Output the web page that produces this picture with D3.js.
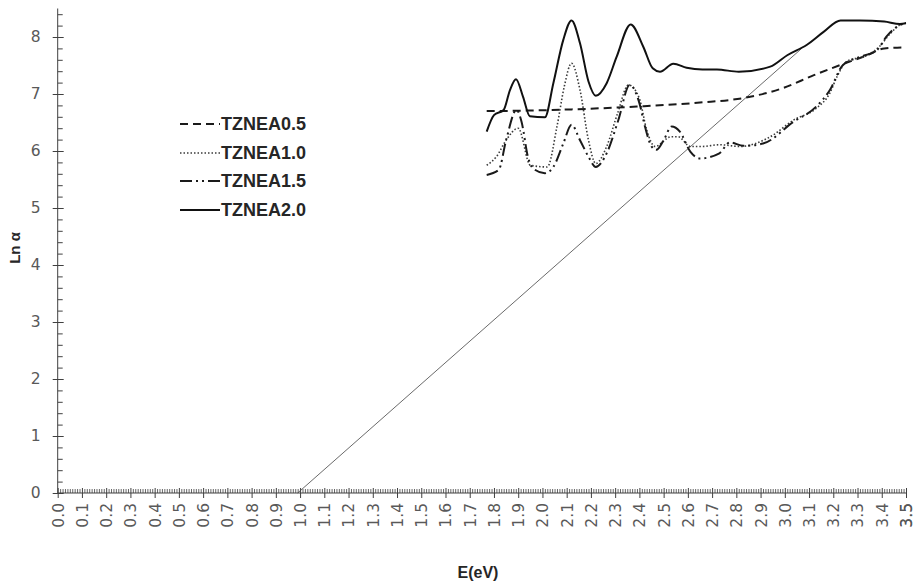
<!DOCTYPE html>
<html>
<head>
<meta charset="utf-8">
<script src="https://cdn.jsdelivr.net/npm/d3@7"></script>
<style>
  html, body { margin: 0; padding: 0; background: #fff; }
  svg { display: block; }
</style>
</head>
<body>
<svg id="chart" width="916" height="584"></svg>
<script>
// ---- data ----
const seriesNames = ["TZNEA0.5", "TZNEA1.0", "TZNEA1.5", "TZNEA2.0"];

const tznea05E = [1.77, 1.95, 2.12, 2.39, 2.65, 2.83, 2.99, 3.12, 3.23, 3.34, 3.41, 3.50];
const tznea05V = [6.70, 6.71, 6.73, 6.78, 6.85, 6.93, 7.10, 7.33, 7.51, 7.68, 7.80, 7.82];

const tznea10E = [1.77, 1.81, 1.85, 1.90, 1.95, 2.02, 2.06, 2.09, 2.12, 2.155, 2.19, 2.22, 2.265, 2.31, 2.355, 2.40, 2.43, 2.465, 2.53, 2.56, 2.61, 2.66, 2.73, 2.815, 2.94, 3.035, 3.13, 3.185, 3.215, 3.255, 3.34, 3.39, 3.435, 3.475, 3.50];
const tznea10V = [5.75, 5.90, 6.19, 6.40, 5.75, 5.72, 6.43, 7.13, 7.54, 7.07, 6.19, 5.78, 6.08, 6.66, 7.16, 6.92, 6.37, 6.08, 6.25, 6.25, 6.08, 6.08, 6.11, 6.08, 6.25, 6.54, 6.75, 7.01, 7.30, 7.57, 7.68, 7.83, 8.06, 8.21, 8.25];

const tznea15E = [1.77, 1.82, 1.85, 1.893, 1.914, 1.94, 1.96, 2.01, 2.045, 2.086, 2.12, 2.155, 2.19, 2.22, 2.265, 2.313, 2.36, 2.40, 2.423, 2.45, 2.47, 2.50, 2.533, 2.567, 2.61, 2.65, 2.73, 2.773, 2.83, 2.91, 3.035, 3.13, 3.186, 3.24, 3.31, 3.38, 3.42, 3.475, 3.50];
const tznea15V = [5.58, 5.67, 6.19, 6.72, 6.51, 5.90, 5.70, 5.61, 5.72, 6.13, 6.46, 6.19, 5.90, 5.72, 5.96, 6.54, 7.16, 6.84, 6.43, 6.08, 6.02, 6.19, 6.43, 6.34, 5.99, 5.87, 5.96, 6.15, 6.09, 6.13, 6.51, 6.78, 7.07, 7.51, 7.65, 7.77, 8.01, 8.21, 8.24];

const tznea20E = [1.77, 1.80, 1.84, 1.866, 1.891, 1.92, 1.948, 2.01, 2.045, 2.086, 2.12, 2.155, 2.19, 2.22, 2.265, 2.306, 2.364, 2.416, 2.455, 2.485, 2.54, 2.595, 2.66, 2.72, 2.81, 2.94, 3.01, 3.09, 3.16, 3.23, 3.31, 3.41, 3.475, 3.50];
const tznea20V = [6.34, 6.63, 6.72, 7.07, 7.26, 6.95, 6.61, 6.59, 7.19, 7.95, 8.29, 7.89, 7.22, 6.97, 7.19, 7.65, 8.22, 7.83, 7.45, 7.39, 7.53, 7.46, 7.43, 7.43, 7.39, 7.48, 7.68, 7.86, 8.09, 8.29, 8.29, 8.27, 8.23, 8.24];

// straight extrapolation line (Tauc-style)
const fitE = [0.99, 3.07];
const fitV = [0.0, 7.80];

const xTickValues = d3.range(0, 36).map(i => i / 10);
const xTickLabels = xTickValues.map(v => v.toFixed(1));
const yTickValues = [0, 1, 2, 3, 4, 5, 6, 7, 8];

// ---- layout ----
const svg = d3.select("#chart");
const x = d3.scaleLinear().domain([0, 3.5]).range([57.7, 906]);
const y = d3.scaleLinear().domain([0, 8.5]).range([493, 8.5]);

const axisColor = "#404040";
const labelColor = "#595959";
const tickFont = "DejaVu Sans, sans-serif";

// fit line
svg.append("path")
  .datum(fitE.map((e, i) => [e, fitV[i]]))
  .attr("fill", "none")
  .attr("stroke", "#6a6a6a")
  .attr("stroke-width", 1)
  .attr("d", d3.line().x(d => x(d[0])).y(d => y(d[1])));

// series
const styles = [
  { E: tznea05E, V: tznea05V, dash: "8,5", width: 2, color: "#1a1a1a" },
  { E: tznea10E, V: tznea10V, dash: "1.5,2", width: 1.6, color: "#3a3a3a" },
  { E: tznea15E, V: tznea15V, dash: "12,4,2,4,2,4", width: 2, color: "#1a1a1a" },
  { E: tznea20E, V: tznea20V, dash: null, width: 2, color: "#111" }
];
const line = d3.line().x(d => x(d[0])).y(d => y(d[1])).curve(d3.curveMonotoneX);
styles.forEach(s => {
  svg.append("path")
    .datum(s.E.map((e, i) => [e, s.V[i]]))
    .attr("fill", "none")
    .attr("stroke", s.color)
    .attr("stroke-width", s.width)
    .attr("stroke-dasharray", s.dash)
    .attr("stroke-linejoin", "round")
    .attr("d", line);
});

// ---- y axis ----
const yMinor = d3.range(0, 8.5, 0.2).filter(v => Math.abs(v - Math.round(v)) > 1e-6);
svg.append("g").attr("transform", `translate(${x(0)},0)`)
  .call(d3.axisRight(y).tickValues(yMinor).tickSize(5).tickFormat(""))
  .call(g => g.select(".domain").remove())
  .call(g => g.selectAll("line").attr("stroke", axisColor));
const yAxis = svg.append("g").attr("transform", `translate(${x(0) + 6},0)`)
  .call(d3.axisLeft(y).tickValues(yTickValues).tickSize(11).tickSizeOuter(0).tickPadding(12).tickFormat(d3.format("d")));
yAxis.select(".domain").remove();
yAxis.selectAll("line").attr("stroke", axisColor);
yAxis.selectAll("text").attr("fill", labelColor).style("font-family", tickFont).style("font-size", "15.5px");
svg.append("line")
  .attr("x1", x(0)).attr("x2", x(0)).attr("y1", y(8.5)).attr("y2", y(0))
  .attr("stroke", axisColor).attr("stroke-width", 1);

// ---- x axis ----
const xMinor = d3.range(0, 351).map(i => i / 100).filter((v, i) => i % 10 !== 0);
svg.append("g").attr("transform", `translate(0,${y(0)})`)
  .call(d3.axisTop(x).tickValues(xMinor).tickSize(4).tickFormat(""))
  .call(g => g.select(".domain").remove())
  .call(g => g.selectAll("line").attr("stroke", axisColor).attr("stroke-width", 0.8));
const xAxis = svg.append("g").attr("transform", `translate(0,${y(0) - 5})`)
  .call(d3.axisBottom(x).tickValues(xTickValues.concat([3.5])).tickSize(10).tickSizeOuter(0)
    .tickFormat((d) => d.toFixed(1)));
xAxis.select(".domain").remove();
xAxis.selectAll("line").attr("stroke", axisColor);
xAxis.selectAll("text")
  .attr("fill", labelColor)
  .style("font-family", tickFont).style("font-size", "15.5px")
  .attr("text-anchor", "end")
  .attr("dy", "0.35em")
  .attr("transform", "translate(0,15) rotate(-90)")
  .attr("x", 0).attr("y", 0);
svg.append("line")
  .attr("x1", x(0)).attr("x2", x(3.5)).attr("y1", y(0)).attr("y2", y(0))
  .attr("stroke", axisColor).attr("stroke-width", 1);

// ---- titles ----
svg.append("text")
  .attr("x", 478).attr("y", 578)
  .attr("text-anchor", "middle")
  .style("font-family", "Liberation Sans, Arial, sans-serif")
  .style("font-weight", "bold").style("font-size", "16px")
  .attr("fill", "#262626")
  .text("E(eV)");
svg.append("text")
  .attr("transform", "translate(20,248) rotate(-90)")
  .attr("text-anchor", "middle")
  .style("font-family", "Liberation Sans, Arial, sans-serif")
  .style("font-weight", "bold").style("font-size", "15px")
  .attr("fill", "#262626")
  .text("Ln α");

// ---- legend ----
const legendY = [124, 153, 181, 210];
const legend = svg.append("g");
styles.forEach((s, i) => {
  legend.append("line")
    .attr("x1", 180).attr("x2", 220)
    .attr("y1", legendY[i]).attr("y2", legendY[i])
    .attr("stroke", s.color).attr("stroke-width", s.width)
    .attr("stroke-dasharray", s.dash);
  legend.append("text")
    .attr("x", 221).attr("y", legendY[i])
    .attr("dy", "0.35em")
    .style("font-family", "Liberation Sans, Arial, sans-serif")
    .style("font-weight", "bold").style("font-size", "18px")
    .attr("fill", "#262626")
    .text(seriesNames[i]);
});
</script>
</body>
</html>
